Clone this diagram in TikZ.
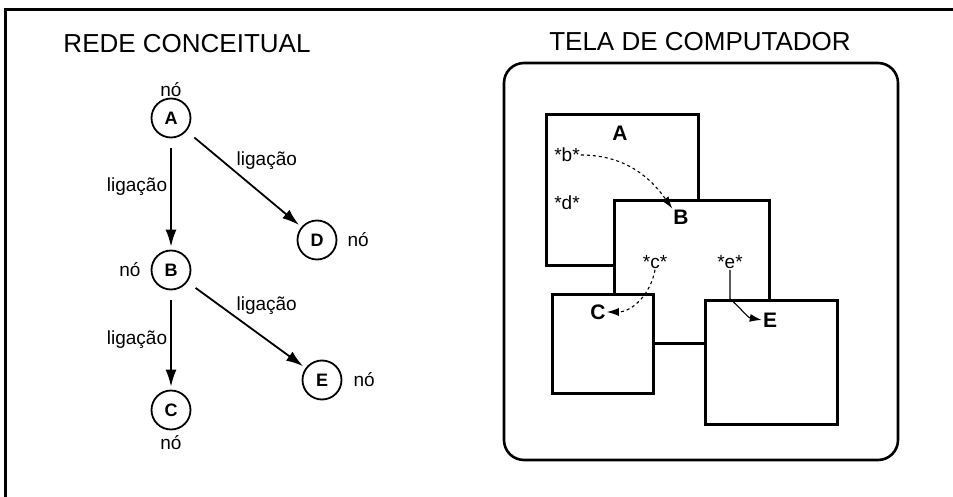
\documentclass[tikz,border=0pt]{standalone}
\usepackage{fontspec}
\setmainfont{Liberation Sans}
\usetikzlibrary{arrows.meta, positioning}
\tikzset{
  conc/.style={
    circle, draw, line width=1.8pt, minimum size=39pt, inner sep=0pt,
    font=\fontsize{18}{18}\selectfont\bfseries
  },
  lbl/.style={font=\fontsize{19}{20}\selectfont, inner sep=1pt},
  titl/.style={font=\fontsize{26}{28}\selectfont, inner sep=0pt},
  link/.style={-{Latex[length=17pt,width=11pt]}, line width=1.8pt,
    shorten <=10pt, shorten >=3pt},
  win/.style={
    rectangle, draw, line width=2.8pt, fill=white, anchor=north west,
    inner sep=0pt, minimum width=#1
  },
  wlbl/.style={font=\fontsize{21}{22}\selectfont\bfseries, inner sep=1pt},
  star/.style={font=\fontsize{19}{20}\selectfont, inner sep=1pt},
  jump/.style={-{Latex[length=12pt,width=8pt]}, line width=1.1pt, #1},
  frame/.style={line width=3pt}
}
\begin{document}
\begin{tikzpicture}[x=1pt, y=-1pt]
  \useasboundingbox (0,0) rectangle (953,497);
  \draw[frame] (953,10) -- (5,10) -- (5,497);

  % rede conceitual
  \node[titl] (tit1) at (187,44) {REDE CONCEITUAL};
  \node[conc] (a) at (171,118) {A};
  \node[conc] (b) at (171,270) {B};
  \node[conc] (c) at (171,410) {C};
  \node[conc] (d) at (317,240) {D};
  \node[conc] (e) at (322,380) {E};
  \node[lbl, above=0pt of a] (noA) {nó};
  \node[lbl, left=9pt of b] (noB) {nó};
  \node[lbl, below=4pt of c] (noC) {nó};
  \node[lbl, right=9pt of d] (noD) {nó};
  \node[lbl, right=10pt of e] (noE) {nó};
  \draw[link] (a) -- (b) node[lbl, pos=0.43, left=2pt] (ligAB) {ligação};
  \draw[link] (a) -- (d) node[lbl, pos=0.42, above right=0pt] (ligAD) {ligação};
  \draw[link] (b) -- (c) node[lbl, midway, left=2pt] (ligBC) {ligação};
  \draw[link] (b) -- (e) node[lbl, pos=0.4, above right=0pt] (ligBE) {ligação};

  % tela de computador
  \node[titl] (tit2) at (700,42) {TELA DE COMPUTADOR};
  \draw[line width=2.6pt, rounded corners=20pt] (504,63) rectangle (898,460);
  \node[win=152pt, minimum height=151pt] (winA) at (545,113) {};
  \node[win=155pt, minimum height=143pt] (winB) at (613,199) {};
  \node[win=101pt, minimum height=99pt] (winC) at (551,293) {};
  \node[win=132pt, minimum height=124pt] (winE) at (704,299) {};
  \node[wlbl] (labA) at (620,133) {A};
  \node[wlbl] (labB) at (681,217) {B};
  \node[wlbl] (labC) at (598,312) {C};
  \node[wlbl] (labE) at (770,320) {E};
  \node[star] (bst) at (567,155) {*b*};
  \node[star] (dst) at (567,203) {*d*};
  \node[star] (cst) at (655,262) {*c*};
  \node[star] (est) at (730,262) {*e*};
  \draw[jump=dashed] (bst.east) to[out=0, in=125] (labB.north west);
  \draw[jump=dashed] (cst.south) to[out=-100, in=0] (labC.east);
  \draw[jump=solid] (est.south) -- (est.south |- winE.north)
    to[out=-40, in=170] (labE.west);
\end{tikzpicture}
\end{document}
